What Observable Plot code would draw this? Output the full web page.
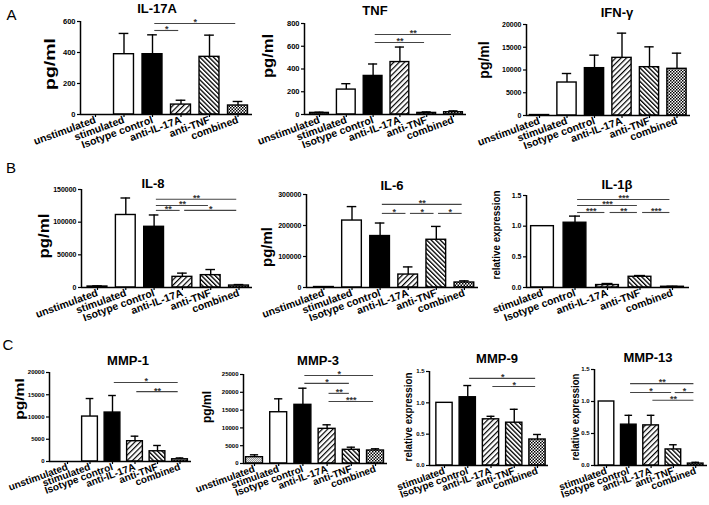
<!DOCTYPE html>
<html><head><meta charset="utf-8">
<script src="https://cdn.jsdelivr.net/npm/d3@7"></script>
<script src="https://cdn.jsdelivr.net/npm/@observablehq/plot@0.6"></script>
<style>
body{margin:0;background:#fff;}
#root{position:relative;width:709px;height:505px;overflow:hidden;background:#fff;font-family:"Liberation Sans",Arial,Helvetica,sans-serif;color:#000;}
#root svg{position:absolute;background:transparent!important;overflow:visible;max-width:none!important;}
.ttl{position:absolute;font-weight:bold;font-size:13px;transform:translate(-50%,-50%);white-space:nowrap;}
.let{position:absolute;font-size:15px;transform:translate(-50%,-50%);}
.ylab{position:absolute;font-weight:bold;white-space:nowrap;line-height:1;}
</style></head><body>
<svg width="0" height="0" style="position:absolute">
<defs>
<pattern id="p17" patternUnits="userSpaceOnUse" width="3.8" height="3.8" patternTransform="rotate(45)"><rect width="3.8" height="3.8" fill="#fff"/><rect width="1.2" height="3.8" fill="#000"/></pattern>
<pattern id="pTNF" patternUnits="userSpaceOnUse" width="3.2" height="3.2" patternTransform="rotate(-45)"><rect width="3.2" height="3.2" fill="#fff"/><rect width="1.3" height="3.2" fill="#000"/></pattern>
<pattern id="pComb" patternUnits="userSpaceOnUse" width="3" height="3"><rect width="3" height="3" fill="#fff"/><rect width="1.5" height="1.5" fill="#000"/><rect x="1.5" y="1.5" width="1.5" height="1.5" fill="#000"/></pattern>
<pattern id="pUn" patternUnits="userSpaceOnUse" width="2" height="2"><rect width="2" height="2" fill="#e6e6e6"/><rect width="1" height="1" fill="#999"/><rect x="1" y="1" width="1" height="1" fill="#999"/></pattern>
</defs></svg>
<div id="root"></div>
<script>
// ---- categories ----
const catsFull = ["unstimulated","stimulated","Isotype control","anti-IL-17A","anti-TNF","combined"];
const catsRel = ["stimulated","Isotype control","anti-IL-17A","anti-TNF","combined"];

// ---- series values (mean) and upper error (mean + SD) ----
const il17aValues = [0, 389, 389, 64, 372, 58];
const il17aErrors = [0, 523, 514, 92, 512, 84];
const tnfValues = [14, 219, 339, 461, 14, 20];
const tnfErrors = [20, 271, 444, 593, 23, 32];
const ifngValues = [100, 7250, 10400, 12670, 10620, 10260];
const ifngErrors = [100, 9230, 13260, 18100, 15090, 13700];
const il8Values = [1500, 111000, 92900, 16300, 18900, 3000];
const il8Errors = [2500, 137000, 111000, 22000, 27500, 4500];
const il6Values = [1500, 216000, 166000, 41800, 154000, 16100];
const il6Errors = [1500, 261000, 208000, 66400, 197000, 21400];
const il1bValues = [1.0, 1.056, 0.04, 0.175, 0.012];
const il1bErrors = [1.0, 1.164, 0.065, 0.195, 0.02];
const mmp1Values = [0, 10100, 11000, 4560, 2300, 500];
const mmp1Errors = [0, 14150, 14830, 5690, 3600, 800];
const mmp3Values = [1770, 14400, 16480, 9740, 3850, 3650];
const mmp3Errors = [2440, 18170, 21150, 10870, 4580, 4130];
const mmp9Values = [1.0, 1.089, 0.737, 0.683, 0.415];
const mmp9Errors = [1.0, 1.276, 0.785, 0.897, 0.495];
const mmp13Values = [1.0, 0.638, 0.627, 0.251, 0.03];
const mmp13Errors = [1.0, 0.784, 0.784, 0.324, 0.05];

// ---- significance brackets: [from, to, level, label] ----
const il17aSig = [["Isotype control","combined",587,"*"],["Isotype control","anti-IL-17A",542,"*"]];
const tnfSig = [["Isotype control","combined",703,"**"],["Isotype control","anti-TNF",633,"**"]];
const ifngSig = [];
const il8Sig = [["Isotype control","combined",135000,"**"],["Isotype control","anti-TNF",125500,"**"],["Isotype control","anti-IL-17A",118000,"**"],["anti-IL-17A","combined",118000,"*"]];
const il6Sig = [["Isotype control","combined",268000,"**"],["Isotype control","anti-IL-17A",239000,"*"],["anti-IL-17A","anti-TNF",239000,"*"],["anti-TNF","combined",239000,"*"]];
const il1bSig = [["Isotype control","combined",1.435,"***"],["Isotype control","anti-TNF",1.337,"***"],["Isotype control","anti-IL-17A",1.223,"***"],["anti-IL-17A","anti-TNF",1.223,"**"],["anti-TNF","combined",1.223,"***"]];
const mmp1Sig = [["Isotype control","combined",17750,"*"],["anti-IL-17A","combined",15700,"**"]];
const mmp3Sig = [["Isotype control","combined",24700,"*"],["Isotype control","anti-TNF",22500,"*"],["anti-IL-17A","anti-TNF",19700,"**"],["anti-IL-17A","combined",17400,"***"]];
const mmp9Sig = [["Isotype control","combined",1.39,"*"],["anti-IL-17A","combined",1.26,"*"]];
const mmp13Sig = [["Isotype control","combined",1.28,"**"],["Isotype control","anti-TNF",1.14,"*"],["anti-TNF","combined",1.14,"*"],["anti-IL-17A","combined",1.02,"**"]];

// ---- axis ticks ----
const ticks600 = [0,200,400,600];
const ticks800 = [0,200,400,600,800];
const ticks20k = [0,5000,10000,15000,20000];
const ticks150k = [0,50000,100000,150000];
const ticks300k = [0,100000,200000,300000];
const ticksRel = [0,0.5,1.0,1.5];
const ticks25k = [0,5000,10000,15000,20000,25000];

const FONT = '"Liberation Sans", Arial, Helvetica, sans-serif';
const FILL = {"unstimulated":"url(#pUn)","stimulated":"#fff","Isotype control":"#000","anti-IL-17A":"url(#p17)","anti-TNF":"url(#pTNF)","combined":"url(#pComb)"};
const root = document.getElementById("root");

function panel(o) {
  const n = o.cats.length;
  const rows = o.cats.map((c, i) => ({c, i, v: o.values[i], e: o.errors[i]}));
  const ML = 60, MR = 8, MT = 16, MB = 70;
  const W = ML + (o.right - o.left) + MR;
  const H = MT + (o.bottom - o.top) + MB;
  const x0 = (o.left - o.c0) / o.s, x1 = (o.right - o.c0) / o.s;
  const idx = c => o.cats.indexOf(c);
  const sig = o.sig.map(([a, b, y, l]) => ({a: idx(a) + 0.08, b: idx(b) - 0.08, y, l, m: (idx(a) + idx(b)) / 2}));
  const fmt = o.fmt || (d => String(d));
  const errRows = rows.filter(d => d.e > d.v);
  const svg = Plot.plot({
    width: W, height: H, marginLeft: ML, marginRight: MR, marginTop: MT, marginBottom: MB,
    style: {fontFamily: FONT, background: "transparent", overflow: "visible"},
    x: {type: "linear", domain: [x0, x1]},
    y: {domain: [0, o.yMax]},
    color: {type: "identity"},
    marks: [
      Plot.rectY(rows.filter(d => d.v > 0), {x1: d => d.i - 0.35, x2: d => d.i + 0.35, y1: 0, y2: "v", fill: d => FILL[d.c], stroke: "#000", strokeWidth: 1.4}),
      Plot.ruleX(errRows, {x: "i", y1: "v", y2: "e", stroke: "#000", strokeWidth: 1.4}),
      Plot.ruleY(errRows, {x1: d => d.i - 0.17, x2: d => d.i + 0.17, y: "e", stroke: "#000", strokeWidth: 1.4}),
      Plot.ruleY(sig, {x1: "a", x2: "b", y: "y", stroke: "#444", strokeWidth: 1.1}),
      Plot.text(sig, {x: "m", y: "y", text: "l", lineAnchor: "top", dy: -4.5, fontSize: 9, fontWeight: "bold", fill: "#333"}),
      Plot.ruleX([x0], {stroke: "#000", strokeWidth: 1.5}),
      Plot.ruleY([0], {stroke: "#000", strokeWidth: 1.5}),
      Plot.axisY({ticks: o.ticks, tickFormat: fmt, tickSize: 3, tickPadding: 2, fontSize: o.tfs, fontWeight: "bold", label: null, strokeWidth: 1.2}),
      Plot.axisX({ticks: d3.range(n), tickFormat: i => o.cats[i], tickRotate: -20, tickSize: 3, tickPadding: 2, fontSize: o.xfs, fontWeight: "bold", label: null, strokeWidth: 1.2})
    ]
  });
  svg.style.left = (o.left - ML) + "px";
  svg.style.top = (o.top - MT) + "px";
  root.appendChild(svg);
  const t = document.createElement("div");
  t.className = "ttl"; t.textContent = o.title;
  t.style.left = o.tx + "px"; t.style.top = o.ty + "px";
  root.appendChild(t);
  const yl = document.createElement("div");
  yl.className = "ylab"; yl.textContent = o.ylabel;
  yl.style.left = o.lx + "px"; yl.style.top = o.ly + "px";
  yl.style.fontSize = o.lfs + "px";
  yl.style.transform = `translate(-50%,-50%) rotate(-90deg) scale(${o.lsx},1)`;
  root.appendChild(yl);
}

const fmtRel = d3.format(".1f");
const panels = [
  {title:"IL-17A", tx:157, ty:8, cats:catsFull, values:il17aValues, errors:il17aErrors, sig:il17aSig, yMax:600, ticks:ticks600, left:80, right:252, top:21, bottom:114, c0:95, s:28.5, ylabel:"pg/ml", lx:49, ly:63.5, lfs:15, lsx:1.3, tfs:7.5, xfs:10.5},
  {title:"TNF", tx:375, ty:10, cats:catsFull, values:tnfValues, errors:tnfErrors, sig:tnfSig, yMax:800, ticks:ticks800, left:304, right:466, top:23, bottom:114, c0:319, s:26.8, ylabel:"pg/ml", lx:267, ly:56, lfs:15, lsx:1.1, tfs:7.5, xfs:10.5},
  {title:"IFN-γ", tx:617, ty:12, cats:catsFull, values:ifngValues, errors:ifngErrors, sig:ifngSig, yMax:20000, ticks:ticks20k, left:526, right:690, top:24, bottom:115, c0:539, s:27.5, ylabel:"pg/ml", lx:484, ly:60, lfs:14, lsx:1.0, tfs:7, xfs:10.5},
  {title:"IL-8", tx:153, ty:183, cats:catsFull, values:il8Values, errors:il8Errors, sig:il8Sig, yMax:150000, ticks:ticks150k, left:81, right:252, top:189, bottom:287, c0:97, s:28.3, ylabel:"pg/ml", lx:43, ly:236, lfs:15, lsx:1.12, tfs:7, xfs:10.5},
  {title:"IL-6", tx:392, ty:185, cats:catsFull, values:il6Values, errors:il6Errors, sig:il6Sig, yMax:300000, ticks:ticks300k, left:306, right:478, top:194, bottom:287, c0:323.4, s:28.1, ylabel:"pg/ml", lx:266, ly:247, lfs:15, lsx:1.0, tfs:7, xfs:10.5},
  {title:"IL-1β", tx:617, ty:184, cats:catsRel, values:il1bValues, errors:il1bErrors, sig:il1bSig, yMax:1.5, ticks:ticksRel, fmt:fmtRel, left:526, right:689, top:195, bottom:287, c0:542, s:32.5, ylabel:"relative expression", lx:497, ly:235, lfs:10, lsx:0.98, tfs:7, xfs:10.5},
  {title:"MMP-1", tx:128, ty:360, cats:catsFull, values:mmp1Values, errors:mmp1Errors, sig:mmp1Sig, yMax:20000, ticks:ticks20k, left:49, right:191, top:372, bottom:461, c0:67, s:22.5, ylabel:"pg/ml", lx:19, ly:399, lfs:13, lsx:1.2, tfs:6, xfs:10},
  {title:"MMP-3", tx:318, ty:360, cats:catsFull, values:mmp3Values, errors:mmp3Errors, sig:mmp3Sig, yMax:25000, ticks:ticks25k, left:243, right:387, top:374, bottom:463, c0:254, s:24.2, ylabel:"pg/ml", lx:207, ly:407, lfs:12, lsx:1.0, tfs:6, xfs:10},
  {title:"MMP-9", tx:497, ty:358, cats:catsRel, values:mmp9Values, errors:mmp9Errors, sig:mmp9Sig, yMax:1.5, ticks:ticksRel, fmt:fmtRel, left:429, right:548, top:371, bottom:465, c0:444, s:23.25, ylabel:"relative expression", lx:409, ly:417, lfs:10, lsx:0.98, tfs:6, xfs:10},
  {title:"MMP-13", tx:648, ty:357, cats:catsRel, values:mmp13Values, errors:mmp13Errors, sig:mmp13Sig, yMax:1.5, ticks:ticksRel, fmt:fmtRel, left:594, right:707, top:369, bottom:465, c0:606, s:22.3, ylabel:"relative expression", lx:576, ly:417, lfs:10, lsx:0.96, tfs:6, xfs:10}
];
panels.forEach(panel);

[["A",11.5,13.5],["B",11,167],["C",8,344]].forEach(([l,x,y]) => {
  const d = document.createElement("div");
  d.className = "let"; d.textContent = l;
  d.style.left = x + "px"; d.style.top = y + "px";
  root.appendChild(d);
});
</script>
</body></html>
